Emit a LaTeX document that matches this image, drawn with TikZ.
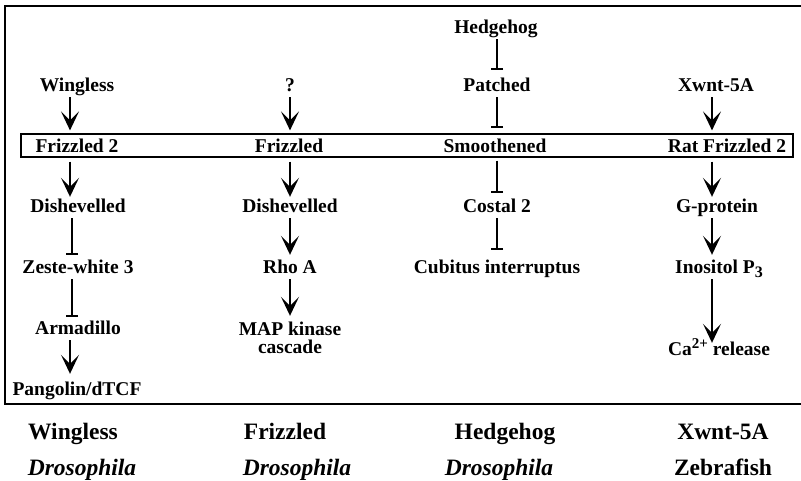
\documentclass[tikz,border=0pt]{standalone}
\usepackage{fontspec}
\setmainfont{Liberation Serif}
\usetikzlibrary{arrows.meta}
\begin{document}
\begin{tikzpicture}[x=1pt,y=-1pt,
 lab/.style={font=\fontsize{19.5}{20}\selectfont\bfseries, text height=13pt, text depth=4pt, inner sep=2pt, anchor=base},
 big/.style={font=\fontsize{23.5}{24}\selectfont\bfseries, inner sep=0pt, anchor=base},
 act/.style={line width=1.8pt, -{Stealth[length=19pt,width=18pt,inset=9pt]}},
 inh/.style={line width=1.4pt, -{Bar[width=12pt,line width=2pt]}},
]
\useasboundingbox (0,0) rectangle (801,480);
% frame
\draw[line width=2.5pt] (4,6) -- (801,6);
\draw[line width=2pt] (5,5) -- (5,404) -- (801,404);
% column coordinates
\coordinate (c1) at (70,0);
\coordinate (c1i) at (72,0);
\coordinate (c2) at (290,0);
\coordinate (c3) at (497,0);
\coordinate (c4) at (712,0);
% nodes
\node[lab] (hh) at (496,33) {Hedgehog};
\node[lab] (wg) at (77,91) {Wingless};
\node[lab] (q) at (290,91) {?};
\node[lab] (ptc) at (497,91) {Patched};
\node[lab] (xw) at (716,91) {Xwnt-5A};
\node[draw, line width=1.2pt, minimum width=772pt, minimum height=23pt, inner sep=0pt] (mem) at (407,145.5) {};
\node[lab] (fz2) at (77,152) {Frizzled 2};
\node[lab] (fz) at (289,152) {Frizzled};
\node[lab] (smo) at (495,152) {Smoothened};
\node[lab] (rfz) at (727,152) {Rat Frizzled 2};
\node[lab] (dsh1) at (78,212) {Dishevelled};
\node[lab] (dsh2) at (290,212) {Dishevelled};
\node[lab] (cos) at (497,212) {Costal 2};
\node[lab] (gp) at (717,212) {G-protein};
\node[lab] (zw3) at (78,273) {Zeste-white 3};
\node[lab] (rho) at (290,273) {Rho A};
\node[lab] (ci) at (497,273) {Cubitus interruptus};
\node[lab] (ip3) at (719,273) {Inositol P\raisebox{-4pt}{\fontsize{16}{16}\selectfont 3}};
\node[lab] (arm) at (78,334) {Armadillo};
\node[lab] (map) at (290,335) {MAP kinase};
\node[lab] (casc) at (290,353) {cascade};
\node[lab] (ca) at (719,355) {Ca\raisebox{7pt}{\fontsize{15}{15}\selectfont 2+} release};
\node[lab] (pan) at (77,395) {Pangolin/dTCF};
% bottom labels
\node[big] (b1) at (73,439) {Wingless};
\node[big] (b2) at (285,439) {Frizzled};
\node[big] (b3) at (505,439) {Hedgehog};
\node[big] (b4) at (723,439) {Xwnt-5A};
\node[big] (s1) at (82,475) {\itshape Drosophila};
\node[big] (s2) at (297,475) {\itshape Drosophila};
\node[big] (s3) at (499,475) {\itshape Drosophila};
\node[big] (s4) at (723,475) {Zebrafish};
% column 1
\draw[act, shorten >=3pt] (wg.south -| c1) -- (mem.north -| c1);
\draw[act, shorten <=4pt] (mem.south -| c1) -- (dsh1.north -| c1);
\draw[inh, shorten >=3pt] (dsh1.south -| c1i) -- (zw3.north -| c1i);
\draw[inh, shorten >=2pt] (zw3.south -| c1i) -- (arm.north -| c1i);
\draw[act, shorten >=6pt] (arm.south -| c1) -- (pan.north -| c1);
% column 2
\draw[act, shorten >=3pt] (q.south -| c2) -- (mem.north -| c2);
\draw[act, shorten <=4pt] (mem.south -| c2) -- (dsh2.north -| c2);
\draw[act, shorten >=3pt] (dsh2.south -| c2) -- (rho.north -| c2);
\draw[act, shorten >=4pt] (rho.south -| c2) -- (map.north -| c2);
% column 3
\draw[inh, shorten >=6pt] (hh.south -| c3) -- (ptc.north -| c3);
\draw[inh, shorten >=5pt] (ptc.south -| c3) -- (mem.north -| c3);
\draw[inh, shorten <=3pt, shorten >=4pt] (mem.south -| c3) -- (cos.north -| c3);
\draw[inh, shorten >=8pt] (cos.south -| c3) -- (ci.north -| c3);
% column 4
\draw[act, shorten >=3pt] (xw.south -| c4) -- (mem.north -| c4);
\draw[act, shorten <=4pt] (mem.south -| c4) -- (gp.north -| c4);
\draw[act, shorten >=3pt] (gp.south -| c4) -- (ip3.north -| c4);
\draw[act, shorten >=-3pt] (ip3.south -| c4) -- (ca.north -| c4);
\end{tikzpicture}
\end{document}
